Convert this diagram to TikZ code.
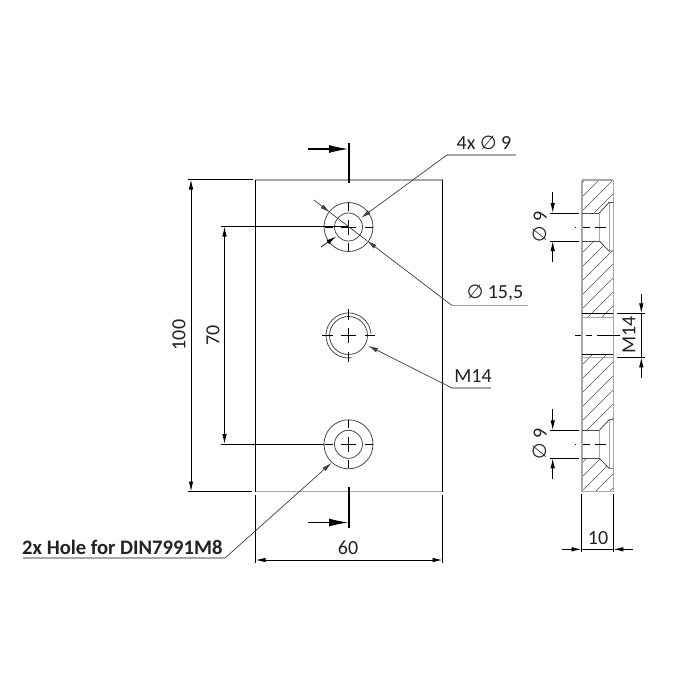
\documentclass[tikz,border=0pt]{standalone}
\usepackage{fontspec}
\setmainfont{Carlito}
\newfontfamily\diafont{DejaVu Sans}
\usepackage{xcolor}
\usetikzlibrary{arrows.meta}
\definecolor{edgegray}{HTML}{A8A8A8}
\definecolor{inkdark}{HTML}{222222}
\newcommand{\dia}{{\diafont\fontsize{19}{19}\selectfont ∅}}
\tikzset{
    dimline/.style={black,line width=0.9pt},
    dimtip/.style={dimline,-{Latex[length=10pt,width=4.5pt]}},
    leader/.style={black!75,line width=0.7pt},
    leadertip/.style={leader,-{Latex[length=10pt,width=4.5pt]}},
    underline/.style={edgegray,line width=1.4pt},
    cutline/.style={black,line width=1.7pt},
    cuttip/.style={cutline,-{Latex[length=20pt,width=8pt]}},
    edge/.style={edgegray,line width=1.4pt},
    thin circle/.style={black!70,line width=0.8pt},
    hatchline/.style={black!65,line width=0.6pt},
    label/.style={inkdark,font=\fontsize{20}{20}\selectfont,inner sep=0pt},
}

\begin{document}
\begin{tikzpicture}[x=1pt,y=-1pt]
    \useasboundingbox[fill=white] (0,0) rectangle (695,695);

    % front view
    \draw[edge] (255,180) -- (442.5,180);
    \draw[edge] (255,491.5) -- (442.5,491.5);
    \draw[dimline] (255.5,180) -- (255.5,491.5);
    \draw[dimline] (442.5,180) -- (442.5,491.5);

    % holes
    \coordinate (top) at (348.5,227);
    \coordinate (mid) at (348.5,335.5);
    \coordinate (bot) at (348.5,444.3);
    \foreach \hole in {top,bot} {
        \draw[thin circle] (\hole) circle (24.5);
        \draw[thin circle] (\hole) circle (14);
        \draw[dimline,line width=0.7pt] ([xshift=-7.5pt]\hole) -- ([xshift=7.5pt]\hole);
        \draw[dimline,line width=0.7pt] ([yshift=-7.5pt]\hole) -- ([yshift=7.5pt]\hole);
        \foreach \ang in {0,90,180,270}
            \draw[dimline,line width=0.7pt] (\hole) ++(\ang:16) -- ++(\ang:8);
    }
    \draw[thin circle] (mid) circle (19);
    \draw[thin circle] (mid) ++(80:22.5) arc[start angle=80,end angle=355,radius=22.5];
    \draw[dimline,line width=0.7pt] ([xshift=-7.5pt]mid) -- ([xshift=7.5pt]mid);
    \draw[dimline,line width=0.7pt] ([yshift=-7.5pt]mid) -- ([yshift=7.5pt]mid);
    \foreach \ang in {0,90,180,270}
        \draw[dimline,line width=0.7pt] (mid) ++(\ang:16) -- ++(\ang:10.5);

    % section marks
    \draw[cutline] (349,143) -- (349,183);
    \draw[cuttip] (308,149) -- (349,149);
    \draw[cutline] (349,487) -- (349,528);
    \draw[cuttip] (308,522.5) -- (349,522.5);

    % dimensions front view
    \draw[dimline] (188,179.5) -- (252.5,179.5);
    \draw[dimline] (188,491.5) -- (252,491.5);
    \draw[dimtip] (191,335) -- (191,179.5);
    \draw[dimtip] (191,335) -- (191,491.5);
    \node[label,rotate=90] (len100) at (179,335) {100};

    \draw[dimline] (221,226.5) -- (348.5,226.5);
    \draw[dimline] (221,444) -- (324,444);
    \draw[dimtip] (224.5,335) -- (224.5,226.5);
    \draw[dimtip] (224.5,335) -- (224.5,444);
    \node[label,rotate=90] (len70) at (213,335) {70};

    \draw[dimline] (255.5,495) -- (255.5,563);
    \draw[dimline] (442.5,495) -- (442.5,563);
    \draw[dimtip] (348,560) -- (255.5,560);
    \draw[dimtip] (348,560) -- (442.5,560);
    \node[label] (len60) at (348,548) {60};

    % leaders
    \coordinate (dianine) at (447,155);
    \draw[underline] (dianine) -- (516,155);
    \draw[leadertip] (dianine) -- (361,218);
    \draw[dimtip,line width=0.7pt] (321,247) -- (336,236.5);
    \node[label] (txtnine) at (484,143) {4x \dia\ 9};

    \coordinate (diaouter) at (452,305.5);
    \draw[underline] (diaouter) -- (528,305.5);
    \draw[leadertip] (diaouter) -- (367,240.7);
    \draw[leader] (367,240.7) -- (330,212.5);
    \draw[leadertip] (314,200) -- (330,212.5);
    \node[label] (txtouter) at (495,293) {\dia\ 15,5};

    \coordinate (threadm) at (452,388);
    \draw[underline] (threadm) -- (491,388);
    \draw[leadertip] (threadm) -- (368,345.7);
    \node[label] (txtthread) at (473,376) {M14};

    \coordinate (din) at (225,558);
    \draw[underline] (23,558) -- (din);
    \draw[leadertip] (din) -- (331.7,462.7);
    \node[label,font=\fontsize{20.6}{20.6}\selectfont\bfseries,anchor=west] (txtdin) at (22,547) {2x Hole for DIN7991M8};

    % section view hatching
    \begin{scope}
        \clip (582,180) -- (613,180) -- (613,202) -- (609,202) -- (599,212.7) -- (582,212.7) -- cycle
              (582,240.7) -- (599,240.7) -- (609,251) -- (613,251) -- (613,317) -- (582,317) -- cycle
              (582,354) -- (613,354) -- (613,420) -- (609,420) -- (599,430.3) -- (582,430.3) -- cycle
              (582,458.3) -- (599,458.3) -- (609,468.3) -- (613,468.3) -- (613,491.5) -- (582,491.5) -- cycle;
        \foreach \hy in {190,204,...,540}
            \draw[hatchline] (575,\hy) -- (625,\hy-50);
    \end{scope}

    % section view outline
    \draw[edge] (582,180) -- (613.3,180);
    \draw[edge] (582,491.5) -- (613.3,491.5);
    \draw[edge] (582,180) -- (582,491.5);
    \draw[edge] (613.3,180) -- (613.3,491.5);

    % countersunk holes
    \foreach \cy in {227,444.3} {
        \draw[edgegray,line width=1pt] (599.3,\cy-14) -- (599.3,\cy+14);
        \draw[edgegray,line width=1pt] (609,\cy-25) -- (609,\cy+24);
        \draw[black!70,line width=0.8pt] (599.3,\cy-14) -- (609,\cy-24.5) -- (613.3,\cy-24.5);
        \draw[black!70,line width=0.8pt] (599.3,\cy+14) -- (609,\cy+24) -- (613.3,\cy+24);
        \draw[black!70,line width=0.8pt] (582,\cy-14) -- (599.3,\cy-14);
        \draw[black!70,line width=0.8pt] (582,\cy+14) -- (599.3,\cy+14);
        \draw[dimline] (550,\cy-14) -- (579,\cy-14);
        \draw[dimline] (550,\cy+14) -- (579,\cy+14);
        \draw[dimtip] (552.7,\cy-35) -- (552.7,\cy-14);
        \draw[dimtip] (552.7,\cy+35) -- (552.7,\cy+14);
        \draw[dimline] (575.3,\cy) -- (576.3,\cy);
        \draw[dimline] (583,\cy) -- (590,\cy);
        \draw[dimline] (594.5,\cy) -- (606,\cy);
    }
    \node[label,rotate=90] (secnine) at (540,227) {\dia\ 9};
    \node[label,rotate=90] (secninelow) at (540,444.3) {\dia\ 9};

    % threaded hole
    \draw[dimline] (582,313.3) -- (613,313.3);
    \draw[edge,line width=1pt] (582,317) -- (613,317);
    \draw[dimline] (582,354.3) -- (613,354.3);
    \draw[edge,line width=1pt] (582,357.3) -- (613,357.3);
    \draw[dimline] (575,335) -- (581,335);
    \draw[dimline] (586,335) -- (592,335);
    \draw[dimline] (597,335) -- (620,335);
    \draw[dimline] (617,313.3) -- (645,313.3);
    \draw[dimline] (617,357.3) -- (645,357.3);
    \draw[dimline] (641.3,313.3) -- (641.3,357.3);
    \draw[dimtip] (641.3,294) -- (641.3,313.3);
    \draw[dimtip] (641.3,377.7) -- (641.3,357.3);
    \node[label,rotate=90] (secthread) at (629,335) {M14};

    % thickness
    \draw[dimline] (581.7,494) -- (581.7,552);
    \draw[dimline] (613.3,494) -- (613.3,552);
    \draw[dimtip] (562,549.3) -- (581.7,549.3);
    \draw[dimtip] (632.7,549.3) -- (613.3,549.3);
    \draw[dimline] (581.7,549.3) -- (613.3,549.3);
    \node[label] (thick) at (598,538) {10};
\end{tikzpicture}
\end{document}
